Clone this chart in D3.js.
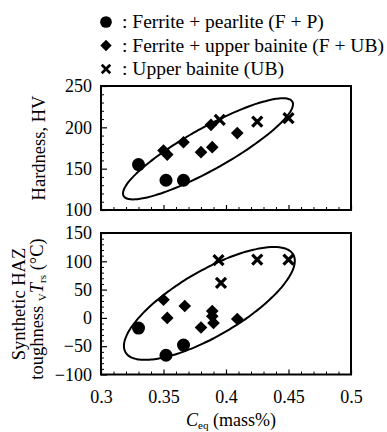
<!DOCTYPE html>
<html><head><meta charset="utf-8">
<script src="https://cdn.jsdelivr.net/npm/d3@7/dist/d3.min.js"></script>
<style>
html,body{margin:0;padding:0;background:#fff;}
svg{display:block;}
</style></head>
<body><svg id="c" width="387" height="432"></svg>
<script>
// ---- data ----
const xTicks = [0.3, 0.35, 0.4, 0.45, 0.5];
const xTickLabels = ["0.3", "0.35", "0.4", "0.45", "0.5"];
const hvTicks = [100, 150, 200, 250];
const tTicks = [-100, -50, 0, 50, 100, 150];

const hvFP_x = [0.330, 0.352, 0.366];
const hvFP_y = [155, 136, 136];
const hvFUB_x = [0.350, 0.353, 0.366, 0.380, 0.389, 0.388, 0.409];
const hvFUB_y = [172, 167, 182, 170, 176, 203, 193];
const hvUB_x = [0.395, 0.425, 0.450];
const hvUB_y = [209, 207, 211];

const tFP_x = [0.330, 0.352, 0.366];
const tFP_y = [-18, -66, -48];
const tFUB_x = [0.350, 0.353, 0.367, 0.380, 0.389, 0.389, 0.390, 0.409];
const tFUB_y = [32, 0, 21, -17, 12, 3, -9, -2];
const tUB_x = [0.394, 0.396, 0.425, 0.450];
const tUB_y = [102, 62, 103, 103];

// ellipse: center, major semi-vector, minor semi-vector (data units)
const hvEllipse = {c: [0.3856, 174], u: [0.0675, 57], v: [0.0082, -22.2]};
const tEllipse = {c: [0.3867, 25.6], u: [0.0671, 86.3], v: [0.0130, -50]};

const legendItems = [
  {sym: "circle", text: ": Ferrite + pearlite (F + P)"},
  {sym: "diamond", text: ": Ferrite + upper bainite (F + UB)"},
  {sym: "cross", text: ": Upper bainite (UB)"}
];

// ---- drawing ----
const FONT = '"Liberation Serif"';
const svg = d3.select("#c");
const X0 = 101, X1 = 351;
const x = d3.scaleLinear().domain([0.3, 0.5]).range([X0, X1]);
const yHV = d3.scaleLinear().domain([100, 250]).range([210, 86]);
const yT = d3.scaleLinear().domain([-100, 150]).range([374.5, 233]);

function drawSym(g, type, cx, cy, scale) {
  scale = scale || 1;
  if (type === "circle") {
    g.append("circle").attr("cx", cx).attr("cy", cy).attr("r", 6.5 * scale).attr("fill", "#000");
  } else if (type === "diamond") {
    g.append("path").attr("d", d3.symbol().type(d3.symbolSquare).size(80 * scale * scale)())
      .attr("transform", `translate(${cx},${cy}) rotate(45)`).attr("fill", "#000");
  } else {
    const h = 5 * scale;
    g.append("path").attr("d", `M${-h},${-h}L${h},${h}M${-h},${h}L${h},${-h}`)
      .attr("transform", `translate(${cx},${cy})`).attr("stroke", "#000")
      .attr("stroke-width", 3.2 * scale).attr("fill", "none");
  }
}

function panel(y, yMajor, yMinorStep, showXLabels, sets, ell) {
  const g = svg.append("g");
  const [ylo, yhi] = y.domain();
  const yMinor = d3.range(ylo, yhi + 0.001, yMinorStep).filter(v => !yMajor.includes(v));
  const xMinor = d3.range(0.3, 0.5001, 0.01).map(v => +v.toFixed(2)).filter(v => !xTicks.some(t => Math.abs(t - v) < 1e-6));

  const ya = g.append("g").attr("transform", `translate(${X0},0)`)
    .call(d3.axisLeft(y).tickValues(yMajor).tickSize(-6).tickPadding(9)
      .tickFormat(d => d < 0 ? "\u2212" + Math.abs(d) : d));
  ya.attr("font-family", null).attr("font-size", null);
  ya.select(".domain").remove();
  ya.selectAll("text").attr("fill", "#000").style("font-family", FONT).style("font-size", "18px");
  ya.selectAll("line").attr("stroke-width", 1.2);
  const ym = g.append("g").attr("transform", `translate(${X0},0)`)
    .call(d3.axisLeft(y).tickValues(yMinor).tickSize(-3).tickFormat(""));
  ym.select(".domain").remove();

  const xb = y.range()[0];
  const xa = g.append("g").attr("transform", `translate(0,${xb})`)
    .call(d3.axisBottom(x).tickValues(xTicks).tickSize(-5).tickPadding(16)
      .tickFormat((d, i) => showXLabels ? xTickLabels[i] : ""));
  xa.attr("font-family", null).attr("font-size", null);
  xa.select(".domain").remove();
  xa.selectAll("text").attr("fill", "#000").style("font-family", FONT).style("font-size", "18px");
  xa.selectAll("line").attr("stroke-width", 1.2);
  const xm = g.append("g").attr("transform", `translate(0,${xb})`)
    .call(d3.axisBottom(x).tickValues(xMinor).tickSize(-3).tickFormat(""));
  xm.select(".domain").remove();

  g.append("rect").attr("x", X0).attr("y", y.range()[1])
    .attr("width", X1 - X0).attr("height", y.range()[0] - y.range()[1])
    .attr("fill", "none").attr("stroke", "#000").attr("stroke-width", 2);

  const pts = d3.range(0, 360, 3).map(a => {
    const t = a * Math.PI / 180;
    return [x(ell.c[0] + Math.cos(t) * ell.u[0] + Math.sin(t) * ell.v[0]),
            y(ell.c[1] + Math.cos(t) * ell.u[1] + Math.sin(t) * ell.v[1])];
  });
  g.append("path").attr("d", d3.line().curve(d3.curveCardinalClosed)(pts))
    .attr("fill", "none").attr("stroke", "#000").attr("stroke-width", 2);

  sets.forEach(s => {
    s.xs.forEach((xv, i) => drawSym(g, s.sym, x(xv), y(s.ys[i])));
  });
}

panel(yHV, hvTicks, 10, false, [
  {sym: "circle", xs: hvFP_x, ys: hvFP_y},
  {sym: "diamond", xs: hvFUB_x, ys: hvFUB_y},
  {sym: "cross", xs: hvUB_x, ys: hvUB_y}
], hvEllipse);

panel(yT, tTicks, 10, true, [
  {sym: "circle", xs: tFP_x, ys: tFP_y},
  {sym: "diamond", xs: tFUB_x, ys: tFUB_y},
  {sym: "cross", xs: tUB_x, ys: tUB_y}
], tEllipse);

// legend
const lg = svg.append("g");
legendItems.forEach((it, i) => {
  const base = 28 + i * 23.5;
  drawSym(lg, it.sym, 106, base - 6, it.sym === "cross" ? 0.85 : 0.9);
  lg.append("text").attr("x", 122).attr("y", base)
    .style("font-family", FONT).style("font-size", "19.5px").text(it.text);
});

// axis titles
svg.append("text").attr("transform", "translate(45,148) rotate(-90)")
  .attr("text-anchor", "middle").style("font-family", FONT).style("font-size", "18.5px").text("Hardness, HV");
svg.append("text").attr("transform", "translate(25,304) rotate(-90)")
  .attr("text-anchor", "middle").style("font-family", FONT).style("font-size", "18.5px").text("Synthetic HAZ");
const t2 = svg.append("text").attr("transform", "translate(43,309) rotate(-90)")
  .attr("text-anchor", "middle").style("font-family", FONT).style("font-size", "18.5px");
t2.append("tspan").text("toughness ");
t2.append("tspan").style("font-size", "11px").attr("dy", 3).text("V");
t2.append("tspan").style("font-style", "italic").attr("dy", -3).text("T");
t2.append("tspan").style("font-size", "11px").attr("dy", 3).text("rs");
t2.append("tspan").attr("dy", -3).text(" (°C)");

const xt = svg.append("text").attr("x", 231).attr("y", 426).attr("text-anchor", "middle")
  .style("font-family", FONT).style("font-size", "18px");
xt.append("tspan").style("font-style", "italic").text("C");
xt.append("tspan").style("font-size", "11px").attr("dy", 3).text("eq");
xt.append("tspan").attr("dy", -3).text(" (mass%)");
</script></body></html>
